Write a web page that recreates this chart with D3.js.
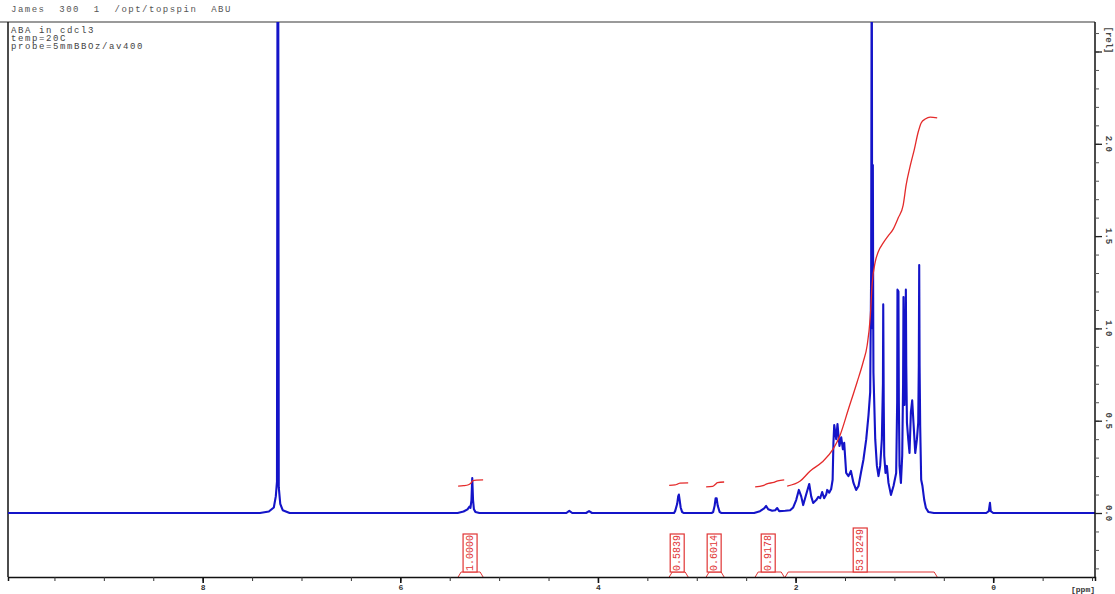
<!DOCTYPE html>
<html>
<head>
<meta charset="utf-8">
<script src="https://cdn.jsdelivr.net/npm/d3@7/dist/d3.min.js"></script>
<style>
  html, body { margin: 0; padding: 0; background: #fff; }
  svg { display: block; }
  text { font-family: "Liberation Mono", "DejaVu Sans Mono", monospace; }
</style>
</head>
<body>
<svg id="chart" width="1115" height="594"></svg>
<script>
// 1H spectrum: [chemical shift (ppm), relative intensity]
const spectrum = [
  [9.97,0],[7.42,0],[7.33,0.008],[7.28,0.03],[7.26,0.09],[7.248,0.17],[7.242,3.4],[7.236,3.4],
  [7.230,0.14],[7.215,0.05],[7.19,0.015],[7.12,0],
  [5.42,0],[5.36,0.008],[5.32,0.02],[5.30,0.035],[5.29,0.028],[5.28,0.07],[5.272,0.19],[5.264,0.07],
  [5.255,0.02],[5.24,0.006],[5.20,0],
  [4.32,0],[4.29,0.012],[4.26,0],[4.12,0],[4.09,0.01],[4.06,0],
  [3.23,0],[3.219,0.01],[3.198,0.05],[3.188,0.09],[3.181,0.10],[3.173,0.07],[3.163,0.03],[3.148,0.005],[3.13,0],
  [2.85,0],[2.834,0.005],[2.819,0.04],[2.809,0.08],[2.799,0.08],[2.788,0.04],[2.768,0.005],[2.75,0],
  [2.42,0],[2.36,0.01],[2.318,0.025],[2.298,0.038],[2.277,0.02],[2.237,0.012],[2.206,0.015],[2.186,0.027],
  [2.166,0.01],[2.105,0.012],[2.055,0.015],[2.024,0.03],[1.994,0.07],[1.967,0.125],[1.943,0.09],[1.923,0.043],
  [1.893,0.1],[1.862,0.157],[1.842,0.09],[1.822,0.054],[1.791,0.07],[1.771,0.087],[1.751,0.08],[1.731,0.114],
  [1.711,0.08],[1.690,0.1],[1.680,0.125],[1.660,0.11],[1.640,0.13],[1.625,0.18],[1.617,0.38],[1.609,0.477],
  [1.589,0.40],[1.576,0.482],[1.556,0.363],[1.538,0.41],[1.521,0.345],[1.508,0.38],[1.488,0.217],[1.465,0.20],
  [1.440,0.228],[1.414,0.163],[1.387,0.125],[1.363,0.146],[1.339,0.217],[1.313,0.29],[1.285,0.40],[1.262,0.53],
  [1.245,0.655],[1.235,1.32],[1.229,3.4],[1.225,1.1],[1.220,1.0],[1.218,1.885],[1.214,1.0],[1.212,0.76],
  [1.194,0.40],[1.177,0.255],[1.161,0.20],[1.144,0.255],[1.127,0.40],[1.116,0.7],[1.113,1.13],[1.108,0.6],
  [1.103,0.31],[1.090,0.217],[1.076,0.255],[1.060,0.163],[1.035,0.098],[1.009,0.146],[0.982,0.217],[0.972,0.6],
  [0.969,1.21],[0.959,1.20],[0.955,0.6],[0.948,0.255],[0.934,0.163],[0.921,0.31],[0.912,0.7],[0.908,1.17],
  [0.898,0.585],[0.888,0.9],[0.884,1.21],[0.880,0.8],[0.873,0.49],[0.860,0.40],[0.847,0.325],[0.833,0.547],
  [0.820,0.61],[0.807,0.49],[0.789,0.325],[0.772,0.40],[0.759,0.49],[0.753,0.8],[0.749,1.343],[0.745,0.8],
  [0.739,0.47],[0.729,0.18],[0.716,0.146],[0.698,0.07],[0.681,0.027],[0.655,0.005],[0.60,0],
  [0.07,0],[0.045,0.01],[0.033,0.055],[0.025,0.01],[0.0,0],[-1.03,0]
];

// integral traces (ppm, running integral drawn on the intensity scale)
const integralCurves = [
  [[5.415,0.146],[5.36,0.148],[5.31,0.153],[5.285,0.162],[5.27,0.174],[5.23,0.178],[5.162,0.179]],
  [[3.279,0.150],[3.22,0.152],[3.19,0.158],[3.17,0.162],[3.087,0.163]],
  [[2.905,0.141],[2.84,0.144],[2.81,0.156],[2.79,0.165],[2.723,0.168]],
  [[2.409,0.141],[2.33,0.148],[2.29,0.158],[2.22,0.166],[2.18,0.174],[2.115,0.179]],
  [[2.085,0.146],[1.953,0.173],[1.852,0.228],[1.731,0.276],[1.619,0.347],[1.549,0.423],[1.468,0.558],
   [1.377,0.710],[1.316,0.818],[1.275,0.910],[1.245,1.056],[1.225,1.241],[1.194,1.360],[1.164,1.414],
   [1.113,1.463],[1.063,1.501],[1.012,1.538],[0.962,1.598],[0.911,1.668],[0.881,1.777],[0.840,1.880],
   [0.800,1.966],[0.759,2.064],[0.729,2.113],[0.688,2.134],[0.638,2.145],[0.567,2.140]]
];
const integralLabels = ["1.0000", "0.5839", "0.6014", "0.9178", "53.8249"];
const integralLabelPpm = [5.294, 3.198, 2.824, 2.277, 1.346];
const integralRanges = [[5.415,5.162],[3.279,3.087],[2.905,2.723],[2.409,2.115],[2.105,0.567]];

const ppmTickLabels = [8, 6, 4, 2, 0];
const relTickLabels = [0.0, 0.5, 1.0, 1.5, 2.0];
const titleLine = "James  300  1  /opt/topspin  ABU";
const infoLines = ["ABA in cdcl3", "temp=20C", "probe=5mmBBOz/av400"];

(function draw() {
  const svg = d3.select("#chart");
  const left = 8, right = 1095, plotTop = 22, plotBottom = 577;

  const x = d3.scaleLinear().domain([9.97, -1.03]).range([left, right]);
  const y = d3.scaleLinear().domain([0, 1]).range([513, 328.4]);

  svg.append("defs").append("clipPath").attr("id", "plotClip")
    .append("rect").attr("x", left).attr("y", plotTop)
    .attr("width", right - left).attr("height", plotBottom - plotTop);

  // frame
  svg.append("line").attr("x1", 0).attr("x2", right).attr("y1", plotTop).attr("y2", plotTop)
    .attr("stroke", "#9a9a9a").attr("stroke-width", 2);
  svg.append("line").attr("x1", left).attr("x2", left).attr("y1", plotTop).attr("y2", plotBottom)
    .attr("stroke", "#111").attr("stroke-width", 1.5);

  // header text
  svg.append("text").attr("x", 11).attr("y", 12).attr("font-size", 9).attr("fill", "#555")
    .attr("letter-spacing", 1.5).style("white-space", "pre").text(titleLine);
  svg.selectAll("text.info").data(infoLines).join("text").attr("class", "info")
    .attr("x", 11).attr("y", (d, i) => 33 + i * 8).attr("font-size", 9).attr("fill", "#444")
    .attr("letter-spacing", 1.6).text(d => d);

  const plot = svg.append("g").attr("clip-path", "url(#plotClip)");

  // spectrum trace
  plot.append("path").datum(spectrum)
    .attr("d", d3.line().x(d => x(d[0])).y(d => y(d[1])))
    .attr("fill", "none").attr("stroke", "#1414c8").attr("stroke-width", 2.1)
    .attr("stroke-linejoin", "round");

  // integral traces
  plot.selectAll("path.int").data(integralCurves).join("path").attr("class", "int")
    .attr("d", d3.line().curve(d3.curveMonotoneX).x(d => x(d[0])).y(d => y(d[1])))
    .attr("fill", "none").attr("stroke", "#e42a2a").attr("stroke-width", 1.3);

  // integral brackets and value boxes
  const red = "#e03434";
  const bracketY = 572;
  integralRanges.forEach((r, i) => {
    const x0 = x(r[0]), x1 = x(r[1]);
    svg.append("path")
      .attr("d", `M${x0},${plotBottom} L${x0 + 3},${bracketY} L${x1 - 3},${bracketY} L${x1},${plotBottom}`)
      .attr("fill", "none").attr("stroke", red).attr("stroke-width", 1);
    const label = integralLabels[i];
    const cx = x(integralLabelPpm[i]);
    const h = label.length * 6 + 2;
    svg.append("rect").attr("x", cx - 7).attr("y", bracketY - h).attr("width", 14).attr("height", h)
      .attr("fill", "#fff").attr("stroke", red).attr("stroke-width", 1.2);
    svg.append("text").attr("transform", `translate(${cx},${bracketY - h / 2}) rotate(-90)`)
      .attr("text-anchor", "middle").attr("dominant-baseline", "central")
      .attr("font-size", 10).attr("fill", red).text(label);
  });

  // bottom ppm axis
  svg.append("g").attr("transform", `translate(0,${plotBottom})`)
    .call(d3.axisBottom(x).tickValues(d3.range(-1, 10, 0.5)).tickSize(4).tickFormat(""))
    .call(g => g.select(".domain").attr("stroke", "#111").attr("stroke-width", 1.5))
    .call(g => g.selectAll(".tick line").attr("stroke", "#333"));
  svg.append("g").attr("transform", `translate(0,${plotBottom})`)
    .call(d3.axisBottom(x).tickValues(ppmTickLabels).tickSize(6).tickPadding(1).tickFormat(d3.format("d")))
    .call(g => g.select(".domain").remove())
    .call(g => g.selectAll(".tick line").attr("stroke", "#111").attr("stroke-width", 1.6))
    .call(g => g.selectAll(".tick text").attr("font-size", 8).attr("font-weight", "bold").attr("fill", "#333")
      .attr("font-family", "Liberation Mono, monospace"));
  svg.append("text").attr("x", 1083).attr("y", 592).attr("text-anchor", "middle")
    .attr("font-size", 8).attr("font-weight", "bold").attr("fill", "#333").text("[ppm]");

  // right intensity axis
  svg.append("g").attr("transform", `translate(${right},0)`)
    .call(d3.axisRight(y).tickValues(d3.range(-0.3, 2.65, 0.1)).tickSize(4).tickFormat(""))
    .call(g => g.select(".domain").attr("d", `M0,${plotTop}V${plotBottom}`).attr("stroke", "#111").attr("stroke-width", 1.5))
    .call(g => g.selectAll(".tick line").attr("stroke", "#555"));
  svg.append("g").attr("transform", `translate(${right},0)`)
    .call(d3.axisRight(y).tickValues(relTickLabels.concat([2.5])).tickSize(7).tickFormat(""))
    .call(g => g.select(".domain").remove())
    .call(g => g.selectAll(".tick line").attr("stroke", "#222").attr("stroke-width", 1.3));
  svg.selectAll("text.rel").data(relTickLabels).join("text").attr("class", "rel")
    .attr("transform", d => `translate(1108,${y(d)}) rotate(90)`)
    .attr("text-anchor", "middle").attr("dominant-baseline", "central")
    .attr("font-size", 9).attr("font-weight", "bold").attr("fill", "#444").text(d3.format(".1f"));
  svg.append("text").attr("transform", `translate(1108,40) rotate(90)`)
    .attr("text-anchor", "middle").attr("dominant-baseline", "central")
    .attr("font-size", 9).attr("font-weight", "bold").attr("fill", "#444").text("[rel]");
})();
</script>
</body>
</html>
